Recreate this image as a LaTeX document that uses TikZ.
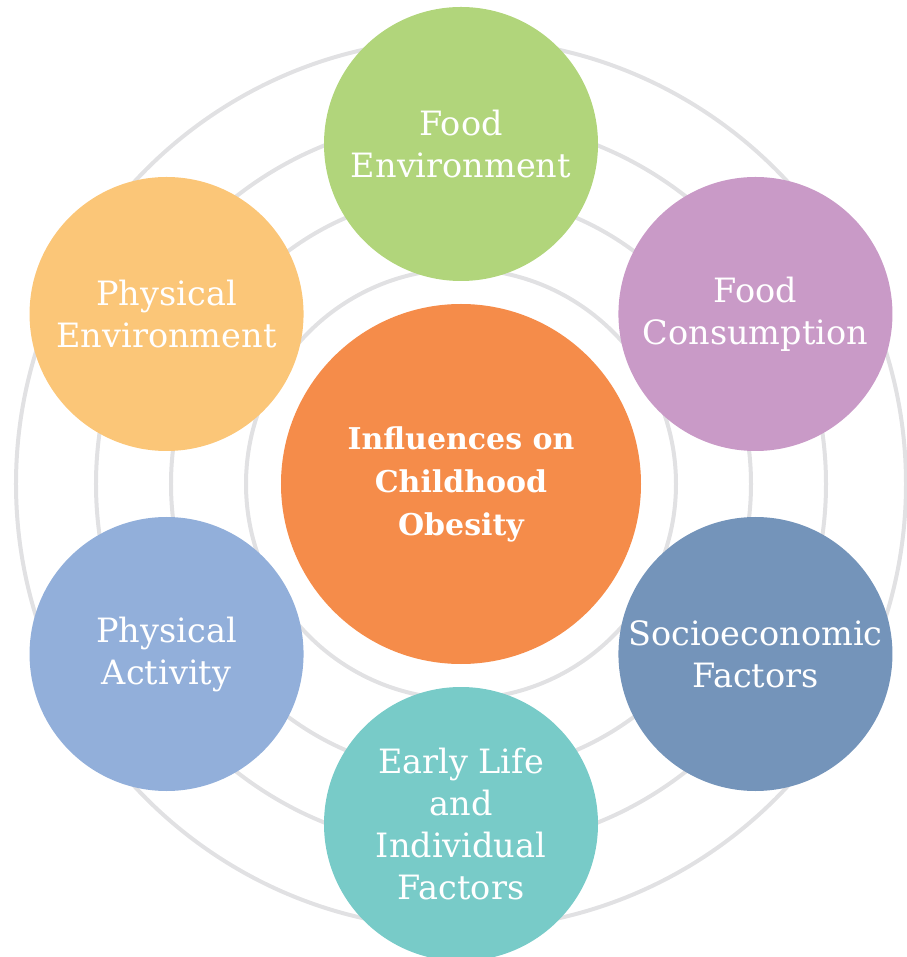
\documentclass[tikz,border=0pt]{standalone}
\usepackage{fontspec}
\setmainfont{DejaVu Serif}
\usetikzlibrary{positioning}
\definecolor{ringgray}{HTML}{E1E1E3}
\definecolor{hubcol}{HTML}{F58C4A}
\definecolor{foodenv}{HTML}{B1D57B}
\definecolor{foodcon}{HTML}{C99AC7}
\definecolor{socio}{HTML}{7494BA}
\definecolor{early}{HTML}{78CBC8}
\definecolor{physact}{HTML}{92AFDA}
\definecolor{physenv}{HTML}{FBC678}
\tikzset{
  factor/.style={circle,fill=#1,minimum size=274pt,inner sep=0pt,align=center,text=white,
    font=\fontsize{33.5}{42}\selectfont},
  hub/.style={circle,fill=hubcol,minimum size=360pt,inner sep=0pt,align=center,text=white,
    font=\fontsize{30}{43}\selectfont\bfseries},
}
\begin{document}
\begin{tikzpicture}[x=1pt,y=1pt,line join=round,line cap=round]
	\def \dist{340}
	\useasboundingbox (-461,-473) rectangle (445,484);
	\foreach \r in {215,290,365,445}
		\draw[ringgray,line width=4pt] (0,0) circle(\r);
	\node[hub] (hub) at (0,0) {Influences on\\Childhood\\Obesity};
	\node[factor=foodenv] (foodenv) at (90:\dist) {Food\\Environment};
	\node[factor=foodcon] (foodcon) at (30:\dist) {Food\\Consumption};
	\node[factor=socio] (socio) at (-30:\dist) {Socioeconomic\\Factors};
	\node[factor=early] (early) at (-90:\dist) {Early Life\\and\\Individual\\Factors};
	\node[factor=physact] (physact) at (-150:\dist) {Physical\\Activity};
	\node[factor=physenv] (physenv) at (150:\dist) {Physical\\Environment};
\end{tikzpicture}
\end{document}
